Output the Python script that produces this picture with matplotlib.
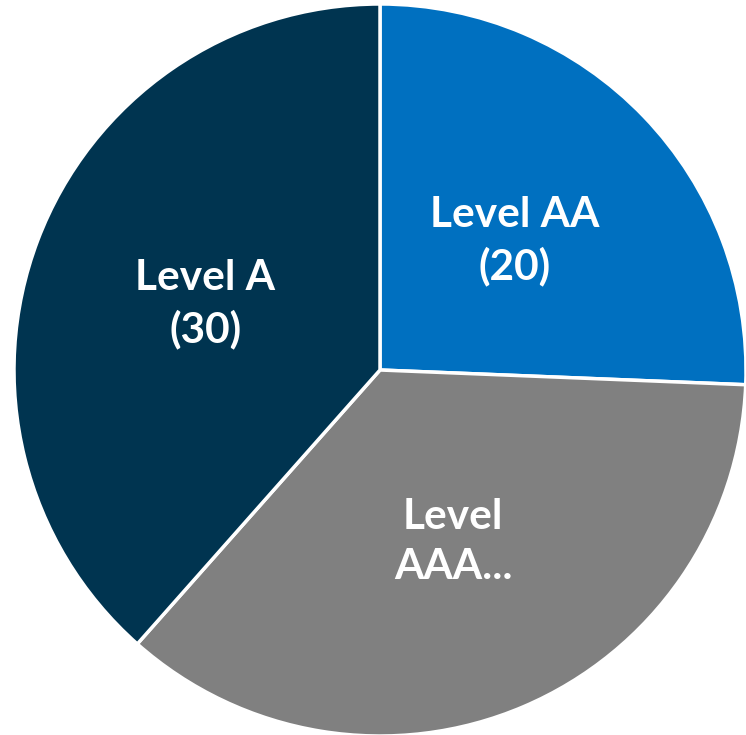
import matplotlib.pyplot as plt

labels = ['Level AA\n(20)', 'Level\nAAA...', 'Level A\n(30)']
values = [20, 28, 30]
colors = ['#0070C0', '#808080', '#003450']

fig = plt.figure(figsize=(7.46, 7.35), dpi=100)
ax = fig.add_axes([0, 0, 1, 1])

wedges, texts = ax.pie(values, labels=labels, colors=colors, startangle=90,
                       counterclock=False, labeldistance=0.51,
                       wedgeprops=dict(edgecolor='white', linewidth=2.5),
                       textprops=dict(color='white', fontsize=30.5, fontweight='bold',
                                      family=['Lato', 'DejaVu Sans'],
                                      ha='center', va='center', linespacing=1.38))

# place the pie so it sits like the original (centre at ~380, 370 px, radius ~366 px)
r = 366
ax.set_xlim(-380 / r, (746 - 380) / r)
ax.set_ylim(-365 / r, (735 - 365) / r)
ax.set_aspect('auto')
ax.axis('off')

fig.savefig('out.png', dpi=100)
